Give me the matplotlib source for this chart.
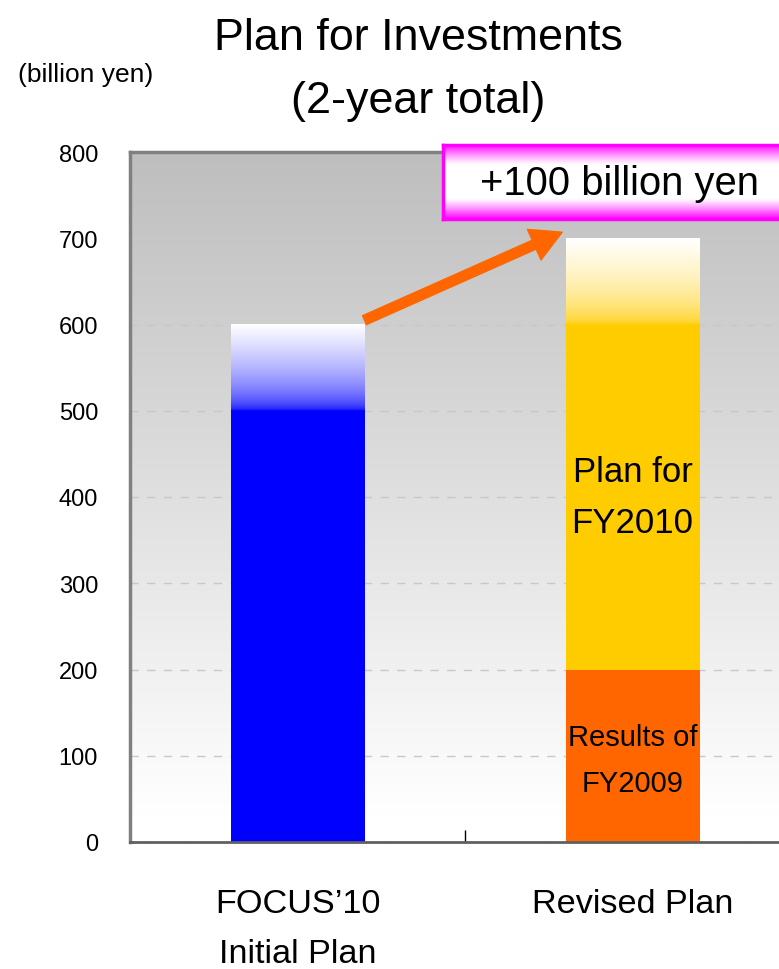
import numpy as np
import matplotlib
matplotlib.use("Agg")
import matplotlib.pyplot as plt
from matplotlib import font_manager
from matplotlib.patches import FancyArrowPatch, ArrowStyle

# data (billion yen)
categories = ["FOCUS\u201910\nInitial Plan", "Revised Plan"]
initial_plan = 600
results_fy2009 = 200
plan_fy2010 = 500
yticks = [0, 100, 200, 300, 400, 500, 600, 700, 800]

revised_total = results_fy2009 + plan_fy2010

# fonts: condensed one if we have it
names = set(f.name for f in font_manager.fontManager.ttflist)
if "Liberation Sans Narrow" in names:
    narrow = ["Liberation Sans Narrow", "DejaVu Sans"]
    nscale = 1.0
else:
    narrow = ["Liberation Sans", "DejaVu Sans"]
    nscale = 0.85
plain = ["Liberation Sans", "DejaVu Sans"]

W, H = 779, 970
fig = plt.figure(figsize=(W / 100, H / 100), dpi=100)
fig.patch.set_facecolor("white")

# axes run off the right edge like in the original picture
ax = fig.add_axes([130 / W, 1 - 843 / H, 670 / W, 690 / H])
ax.set_xlim(-0.5, 1.5)
ax.set_ylim(0, 800)

# background gradient, gray at top to white at bottom
lev = np.linspace(800, 0, 200)  # first row = top
g = np.clip(255 - (lev - 30) / 770 * 65, 190, 255) / 255
bg = np.stack([g, g, g], axis=1).reshape(200, 1, 3)
ax.imshow(bg, extent=(-0.5, 1.5, 0, 800), aspect="auto", zorder=0, interpolation="bilinear")

ax.set_yticks(yticks)
ax.yaxis.grid(True, color="#c8c8c8", linestyle=(0, (6, 6)), linewidth=1)
ax.set_axisbelow(True)

bw = 0.4
fade = 100


def fade_block(x, y0, y1, rgb):
    t = np.linspace(0, 1, 120)
    w = np.sqrt(t)
    col = np.array(rgb)[None, :] * (1 - w[:, None]) + w[:, None]
    img = col[::-1].reshape(120, 1, 3)
    ax.imshow(img, extent=(x - bw / 2, x + bw / 2, y0, y1), aspect="auto",
              zorder=2, interpolation="bilinear")


# initial plan bar (blue, top part fading to white)
ax.bar(0, initial_plan - fade, width=bw, color="#0000ff", zorder=2)
fade_block(0, initial_plan - fade, initial_plan, (0, 0, 1))

# revised plan: results FY2009 + plan FY2010
ax.bar(1, results_fy2009, width=bw, color="#ff6600", zorder=2)
ax.bar(1, plan_fy2010 - fade, bottom=results_fy2009, width=bw, color="#ffcc00", zorder=2)
fade_block(1, revised_total - fade, revised_total, (1, 0.8, 0))
ax.set_ylim(0, 800)
ax.set_xlim(-0.5, 1.5)

ax.text(1, results_fy2009 + (plan_fy2010 - fade) / 2, "Plan for\nFY2010", ha="center", va="center",
        fontsize=25, family=plain, linespacing=1.66, zorder=4)
ax.text(1, results_fy2009 / 2 - 5, "Results of\nFY2009", ha="center", va="center",
        fontsize=21, family=plain, linespacing=1.85, zorder=4)

# orange arrow from initial to revised
arr = FancyArrowPatch((bw / 2, initial_plan + 5), (1 - bw / 2 - 0.01, revised_total + 7),
                      arrowstyle=ArrowStyle("simple", head_length=22, head_width=24, tail_width=7),
                      mutation_scale=1, color="#ff6600", shrinkA=0, shrinkB=0, zorder=5)
ax.add_patch(arr)

# spines and ticks
for s in ["top", "left"]:
    ax.spines[s].set_color("#808080")
    ax.spines[s].set_linewidth(2.5)
ax.spines["bottom"].set_color("#606060")
ax.spines["bottom"].set_linewidth(2)
ax.spines["right"].set_visible(False)
for s in ax.spines.values():
    s.set_zorder(6)

ax.tick_params(axis="y", length=0, pad=23, labelsize=17)
for lab in ax.get_yticklabels():
    lab.set_family(plain)

ax.set_xticks([-0.5, 0.5])
ax.set_xticklabels(["", ""])
ax.tick_params(axis="x", which="major", direction="in", length=9, width=1, color="#000000")
ax.set_xticks([0, 1], minor=True)
ax.set_xticklabels(categories, minor=True)
ax.tick_params(axis="x", which="minor", length=0, pad=33, labelsize=29 * nscale)
for lab in ax.get_xticklabels(minor=True):
    lab.set_family(narrow)
    lab.set_linespacing(1.78)
    lab.set_va("top")

# title and unit
fig.text(418 / W, 1 - 70 / H, "Plan for Investments\n(2-year total)", ha="center", va="center",
         fontsize=38 * nscale, family=narrow, linespacing=1.7)
fig.text(18 / W, 1 - 75 / H, "(billion yen)", ha="left", va="center",
         fontsize=19, family=narrow)

# magenta callout box
bx = fig.add_axes([443 / W, 1 - 220 / H, 400 / W, 74 / H])
t = np.linspace(0, 1, 100)
d = np.abs(t - 0.5) * 2
m = np.clip((d - 0.45) / 0.55, 0, 1) ** 1.2
box = np.dstack([np.ones_like(m), 1 - m, np.ones_like(m)]).reshape(100, 1, 3)
bx.imshow(box, extent=(0, 1, 0, 1), aspect="auto", interpolation="bilinear")
bx.set_xticks([])
bx.set_yticks([])
for s in bx.spines.values():
    s.set_color("#ff00ff")
    s.set_linewidth(2.5)
fig.text(480 / W, 1 - 184 / H, "+%d billion yen" % (revised_total - initial_plan), ha="left", va="center",
         fontsize=28.8, family=plain)

fig.savefig("out.png", dpi=100)
